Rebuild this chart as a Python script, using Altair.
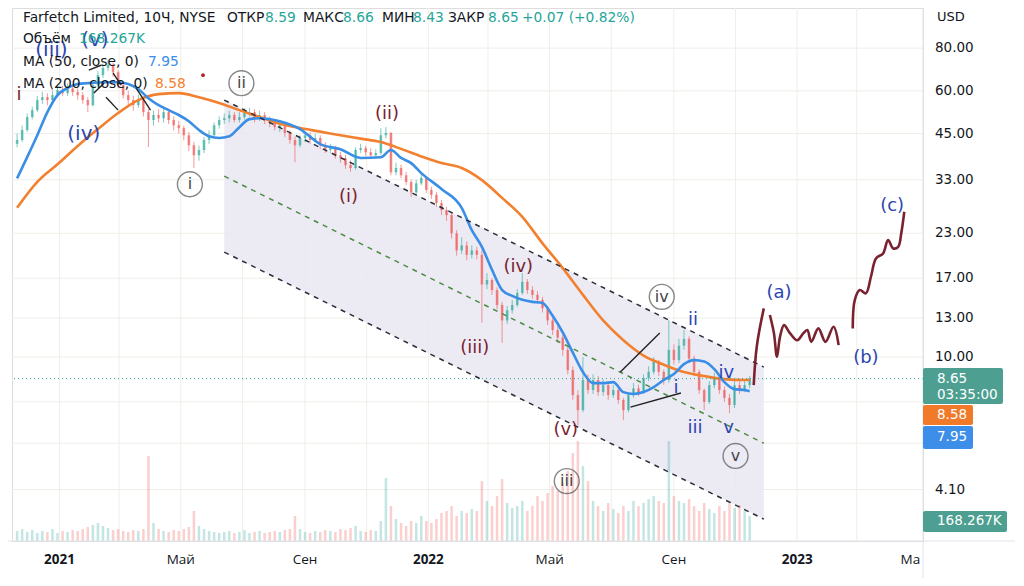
import altair as alt
import pandas as pd

# ---------------- data ----------------
candle_start = "2020-11-20"
candle_step_days = 5
first_open = 42.0
closes = [43.1, 46.1, 50.3, 52.7, 56.4, 57.5, 56.4, 58.3, 60.3, 59.1,
          61.0, 59.5, 58.3, 56.4, 54.5, 62.4, 66.7, 70.0, 71.5, 68.0,
          62.4, 58.3, 56.4, 54.5, 56.4, 52.0, 49.3, 51.0, 49.9, 52.0,
          49.3, 47.6, 46.7, 44.5, 41.6, 38.9, 40.3, 43.1, 44.5, 47.6,
          49.3, 49.9, 51.0, 49.3, 50.3, 51.7, 52.0, 49.9, 51.0, 49.3,
          48.3, 47.0, 47.6, 45.2, 43.1, 41.6, 43.7, 44.5, 43.1, 43.7,
          41.6, 40.3, 40.8, 38.9, 38.2, 36.4, 35.7, 40.3, 40.8, 39.7,
          38.9, 39.5, 44.5, 45.2, 34.7, 35.7, 34.0, 32.5, 30.3, 32.2,
          33.4, 30.8, 29.8, 28.2, 26.9, 26.0, 23.0, 20.5, 21.2, 19.9,
          20.5, 19.9, 16.3, 16.8, 15.7, 14.2, 12.8, 13.7, 14.2, 15.4,
          16.6, 15.7, 15.2, 14.7, 13.9, 12.8, 12.0, 11.4, 10.5, 9.16,
          7.74, 7.0, 8.57, 8.01, 8.57, 7.9, 8.28, 7.74, 8.01, 7.49,
          7.0, 7.74, 8.1, 7.9, 8.68, 9.05, 9.7, 9.05, 8.57, 10.5,
          9.8, 10.8, 11.3, 9.9, 9.05, 8.01, 7.39, 8.28, 8.68, 8.01,
          7.6, 7.24, 8.28, 8.01, 8.28, 8.65]
highs = [45.0, 47.5, 51.5, 54.0, 58.0, 59.5, 59.0, 60.0, 62.5, 62.0,
         63.0, 62.5, 61.0, 59.5, 57.5, 63.5, 68.5, 72.0, 73.9, 72.5,
         69.0, 63.5, 60.0, 58.0, 58.5, 57.0, 53.0, 52.5, 53.0, 53.5,
         53.0, 50.5, 49.0, 47.5, 45.5, 42.5, 41.5, 44.0, 46.0, 48.5,
         50.5, 51.5, 52.5, 52.0, 52.0, 53.4, 53.5, 53.0, 52.5, 52.0,
         50.5, 49.5, 49.0, 48.0, 46.0, 44.0, 44.5, 45.5, 45.5, 45.0,
         44.5, 42.5, 42.0, 41.5, 39.8, 39.0, 37.5, 41.0, 42.0, 41.5,
         40.8, 40.5, 46.7, 47.0, 45.5, 37.0, 36.5, 34.8, 33.0, 33.0,
         34.5, 33.8, 31.5, 30.3, 28.8, 27.5, 26.4, 23.5, 22.4, 21.8,
         21.2, 21.0, 20.5, 17.6, 17.0, 16.0, 14.5, 14.1, 14.7, 15.8,
         17.6, 16.9, 16.1, 15.6, 15.0, 14.1, 13.0, 12.3, 11.6, 10.7,
         9.4, 8.0, 10.0, 8.9, 8.9, 8.8, 8.6, 8.4, 8.3, 8.1,
         7.6, 7.9, 8.4, 8.3, 8.9, 9.4, 10.0, 9.8, 9.2, 12.8,
         10.9, 11.3, 12.0, 11.5, 10.1, 9.2, 8.1, 8.5, 9.0, 8.8,
         8.2, 7.8, 8.6, 8.5, 8.5, 8.8]
lows = [41.0, 42.5, 45.5, 49.5, 52.0, 55.0, 54.5, 55.5, 57.5, 58.0,
        58.0, 58.0, 56.5, 55.0, 52.0, 54.0, 61.5, 65.5, 68.5, 66.0,
        61.0, 57.0, 54.0, 52.5, 53.5, 50.5, 41.1, 47.5, 48.5, 48.5,
        48.0, 46.0, 45.0, 43.0, 40.0, 35.7, 37.5, 39.5, 42.0, 44.0,
        46.5, 48.0, 48.5, 48.5, 48.5, 49.5, 50.5, 48.5, 49.0, 48.0,
        47.0, 46.0, 45.5, 44.0, 42.0, 37.1, 41.0, 42.5, 42.0, 42.5,
        40.5, 39.5, 39.5, 38.0, 37.0, 35.5, 34.8, 35.3, 39.5, 38.8,
        38.0, 38.3, 39.0, 43.5, 34.0, 34.0, 33.3, 31.8, 29.4, 30.0,
        31.8, 30.2, 29.0, 27.5, 26.0, 25.0, 22.2, 19.8, 20.0, 19.2,
        19.4, 19.3, 12.6, 15.8, 15.2, 13.8, 11.0, 12.5, 13.4, 14.0,
        15.2, 15.3, 14.8, 14.3, 13.5, 12.4, 11.6, 11.0, 10.1, 8.9,
        7.5, 6.33, 6.9, 7.8, 7.8, 7.7, 7.7, 7.5, 7.6, 7.3,
        6.54, 6.9, 7.6, 7.7, 7.8, 8.5, 8.9, 8.8, 8.3, 8.4,
        9.5, 9.6, 10.5, 9.6, 8.8, 7.8, 7.0, 7.3, 8.1, 7.8,
        7.4, 6.86, 7.1, 7.8, 7.9, 8.1]
volumes_k = [300, 360, 270, 330, 240, 300, 270, 360, 240, 300,
             270, 330, 300, 360, 420, 480, 540, 450, 390, 330,
             360, 300, 270, 330, 300, 360, 2550, 540, 360, 300,
             270, 330, 300, 360, 420, 900, 450, 360, 300, 270,
             240, 270, 300, 240, 270, 330, 240, 270, 300, 240,
             270, 300, 270, 330, 360, 750, 360, 270, 240, 300,
             270, 330, 300, 270, 360, 330, 390, 450, 300, 270,
             330, 300, 600, 1890, 1050, 660, 540, 450, 600, 540,
             750, 600, 540, 660, 840, 900, 1050, 750, 900, 840,
             960, 900, 1800, 1200, 1050, 1350, 1860, 1140, 990, 1050,
             1200, 900, 1050, 1350, 1200, 1440, 1650, 1500, 1740, 2100,
             2640, 3000, 2250, 1800, 1200, 1050, 900, 1140, 960, 840,
             1050, 900, 1200, 1050, 1140, 1260, 1350, 1200, 1140, 3000,
             1350, 1200, 1140, 1260, 1050, 900, 1140, 960, 840, 1050,
             900, 1200, 990, 1080, 900, 750]

ma50_idx = [0, 2, 4, 6, 8, 10, 12, 14, 16, 18, 20, 22, 24, 26, 28, 30, 32, 34,
            36, 38, 40, 42, 44, 46, 48, 52, 56, 60, 64, 68, 72, 74, 76, 78, 80,
            84, 88, 90, 92, 94, 96, 98, 100, 102, 104, 106, 108, 110, 112, 114,
            116, 118, 120, 122, 124, 126, 128, 130, 132, 134, 136, 138, 140,
            142, 144, 145]
ma50_val = [33.3, 38.4, 44.5, 52.0, 58.3, 61.2, 62.8, 63.2, 63.5, 63.6, 63.6,
            62.8, 60.7, 57.1, 54.5, 52.7, 51.0, 48.9, 46.1, 44.2, 43.7, 44.2,
            47.0, 49.6, 49.9, 48.9, 46.4, 41.9, 40.5, 38.2, 38.4, 40.3, 38.2,
            36.9, 34.5, 31.0, 27.3, 23.5, 21.0, 18.0, 15.7, 15.1, 14.7, 14.5,
            14.4, 13.2, 11.8, 10.3, 9.04, 8.39, 8.39, 8.45, 7.9, 7.8, 7.9,
            8.17, 8.57, 8.92, 9.54, 9.80, 9.7, 9.22, 8.45, 8.06, 8.01, 7.95]
ma200_idx = [0, 4, 8, 12, 16, 20, 24, 28, 32, 36, 40, 44, 48, 52, 56, 60, 64,
             68, 72, 76, 80, 84, 88, 92, 96, 100, 104, 108, 112, 116, 120, 124,
             128, 132, 136, 140, 144, 145]
ma200_val = [27.3, 32.5, 36.6, 41.4, 46.4, 51.7, 56.4, 58.7, 59.1, 57.5, 55.3,
             52.7, 50.3, 48.1, 46.7, 45.6, 44.5, 43.5, 42.5, 40.6, 38.6, 36.9,
             35.7, 32.9, 29.2, 25.7, 21.5, 18.2, 15.2, 12.8, 11.2, 10.1, 9.5,
             9.04, 8.8, 8.62, 8.57, 8.58]

last_price = 8.65
grid_prices = [80, 60, 45, 33, 23, 17, 13, 10, 7.4, 5.6, 4.1]
label_prices = [80, 60, 45, 33, 23, 17, 13, 10, 4.1]
grid_dates = ["2021-01-01", "2021-03-01", "2021-05-01", "2021-07-01", "2021-09-01",
              "2021-11-01", "2022-01-01", "2022-03-01", "2022-05-01", "2022-07-01",
              "2022-09-01", "2022-11-01", "2023-01-01", "2023-03-01"]
year_dates = ["2021-01-01", "2022-01-01", "2023-01-01"]
year_labels = ["2021", "2022", "2023"]
month_dates = ["2021-05-01", "2021-09-01", "2022-05-01", "2022-09-01", "2023-04-23"]
month_labels = ["Май", "Сен", "Май", "Сен", "Ма"]

# parallel channel (start / end)
chan_dates = ["2021-06-13", "2022-11-29"]
chan_top = [56.4, 9.35]
chan_mid = [33.8, 5.60]
chan_bot = [20.27, 3.36]

# black hand-drawn trend lines
trend_seg = [1, 1, 2, 2, 3, 3, 4, 4, 5, 5, 6, 6, 7, 7]
trend_date = ["2021-01-30", "2021-02-11", "2021-02-04", "2021-02-14", "2021-02-16",
              "2021-02-28", "2021-02-23", "2021-03-03", "2021-03-18", "2021-04-01",
              "2022-07-10", "2022-08-18", "2022-07-20", "2022-09-08"]
trend_price = [69.0, 71.3, 59.1, 63.2, 57.5, 52.7, 67.6, 62.4, 61.0, 52.7,
               9.04, 11.75, 7.14, 7.85]

# forecast path (dark red)
fc_seg = [1, 1, 1] + [2] * 14 + [3] * 12
fc_date = ["2022-11-19", "2022-11-22", "2022-11-29",
           "2022-12-05", "2022-12-09", "2022-12-12", "2022-12-15", "2022-12-19",
           "2022-12-25", "2023-01-01", "2023-01-07", "2023-01-11", "2023-01-15",
           "2023-01-22", "2023-01-29", "2023-02-06", "2023-02-11",
           "2023-02-25", "2023-02-27", "2023-03-04", "2023-03-10", "2023-03-15",
           "2023-03-20", "2023-03-27", "2023-04-01", "2023-04-06", "2023-04-11",
           "2023-04-14", "2023-04-17"]
fc_price = [8.28, 10.72, 13.88,
            13.27, 11.75, 10.02, 11.46, 12.40, 11.73, 11.2, 11.73, 12.0, 11.08,
            12.13, 11.08, 12.26, 10.84,
            12.13, 14.68, 15.70, 15.35, 17.17, 19.43, 20.09, 21.98, 20.78,
            21.01, 22.99, 26.59]

# wave labels
red_text = ["i", "(i)", "(ii)", "(iii)", "(iv)", "(v)"]
red_date = ["2020-11-22", "2021-10-14", "2021-11-21", "2022-02-16", "2022-03-31", "2022-05-17"]
red_price = [58.3, 29.4, 51.3, 10.6, 18.3, 6.12]
blue_big_text = ["(iii)", "(v)", "(iv)"]
blue_big_date = ["2020-12-24", "2021-02-05", "2021-01-25"]
blue_big_price = [78.9, 84.4, 45.0]
blue_text = ["ii", "i", "iii", "iv", "v", "(a)", "(b)", "(c)"]
blue_date = ["2022-09-20", "2022-09-03", "2022-09-22", "2022-10-23", "2022-10-25",
             "2022-12-14", "2023-03-10", "2023-04-05"]
blue_price = [12.8, 8.12, 6.20, 8.98, 6.20, 15.4, 9.93, 27.6]
circ_text = ["i", "ii", "iii", "iv", "v"]
circ_date = ["2021-05-10", "2021-06-30", "2022-05-18", "2022-08-20", "2022-11-01"]
circ_price = [32.0, 63.2, 4.34, 15.0, 5.14]
dot_date = ["2021-05-23"]
dot_price = [66.7]

# ---------------- styling ----------------
UP, DOWN = "#26a69a", "#ef5350"
BLUE, ORANGE = "#3a8ee6", "#f2802e"
MAROON, WBLUE = "#7a2330", "#2c45b0"
GRID = "#efeee8"
TXT = "#131722"
FONT = "DejaVu Sans"
AFONT = "Open Sans"
LFONT = "DejaVu Sans"

dates = pd.date_range(candle_start, periods=len(closes),
                      freq=f"{candle_step_days}D").strftime("%Y-%m-%d").tolist()
opens = [first_open] + closes[:-1]
direction = ["up" if c >= o else "down" for o, c in zip(opens, closes)]
candles = pd.DataFrame({"date": dates, "open": opens, "high": highs, "low": lows,
                        "close": closes, "dir": direction, "vol": volumes_k})

XS = alt.Scale(type="utc", domain=[
    alt.DateTime(year=2020, month=11, date=19, hours=22, utc=True),
    alt.DateTime(year=2023, month=4, date=30, hours=14, utc=True)])
YS = alt.Scale(type="log", domain=[2.90, 104.8])


def X(f="date"):
    return alt.X(f"{f}:T", scale=XS, axis=None)


def Y(f):
    return alt.Y(f"{f}:Q", scale=YS, axis=None)


CS = alt.Color("dir:N", scale=alt.Scale(domain=["up", "down"], range=[UP, DOWN]), legend=None)


def one():
    return pd.DataFrame({"k": [0]})


def txt(s, x, y, color=TXT, size=13.8, weight="normal", align="left", font=FONT):
    return alt.Chart(pd.DataFrame({"t": [s]})).mark_text(
        align=align, baseline="middle", font=font, fontSize=size, fontWeight=weight, color=color
    ).encode(text="t:N", x=alt.value(x), y=alt.value(y))


def box(x1, x2, y1, y2, color):
    return alt.Chart(one()).mark_rect(color=color, cornerRadius=2).encode(
        x=alt.value(x1), x2=alt.value(x2), y=alt.value(y1), y2=alt.value(y2))


# ---- group A: grid + channel fill (log y) ----
hgrid = alt.Chart(pd.DataFrame({"p": grid_prices})).mark_rule(color=GRID, strokeWidth=1).encode(y=Y("p"))
vgrid = alt.Chart(pd.DataFrame({"date": grid_dates})).mark_rule(color=GRID, strokeWidth=1).encode(x=X())
chan_df = pd.DataFrame({"date": chan_dates, "top": chan_top, "bot": chan_bot})
chan_fill = alt.Chart(chan_df).mark_area(color="#e9e8f2", opacity=0.85).encode(
    x=X(), y=Y("top"), y2="bot:Q")
groupA = alt.layer(hgrid, vgrid, chan_fill)

# ---- group V: volume (own linear y) ----
vol = alt.Chart(candles).mark_bar(size=2.5, opacity=0.28).encode(
    x=X(), y=alt.Y("vol:Q", scale=alt.Scale(domain=[0, 16000]), axis=None), color=CS)

# ---- group B: price marks and annotations ----
wicks = alt.Chart(candles).mark_rule(strokeWidth=1, opacity=0.6).encode(
    x=X(), y=Y("low"), y2="high:Q", color=CS)
bodies = alt.Chart(candles).mark_bar(size=2.6, opacity=0.62).encode(
    x=X(), y=Y("open"), y2="close:Q", color=CS)
ma50 = alt.Chart(pd.DataFrame({"date": [dates[i] for i in ma50_idx], "v": ma50_val})).mark_line(
    color=BLUE, strokeWidth=2.6, interpolate="monotone").encode(x=X(), y=Y("v"))
ma200 = alt.Chart(pd.DataFrame({"date": [dates[i] for i in ma200_idx], "v": ma200_val})).mark_line(
    color=ORANGE, strokeWidth=2.6, interpolate="monotone").encode(x=X(), y=Y("v"))
pline = alt.Chart(pd.DataFrame({"p": [last_price]})).mark_rule(
    color=UP, strokeDash=[1, 3], strokeWidth=1).encode(y=Y("p"))

chan_lines_df = pd.DataFrame({"date": chan_dates * 2, "p": chan_top + chan_bot,
                              "line": ["top", "top", "bot", "bot"]})
chan_lines = alt.Chart(chan_lines_df).mark_line(color="#2a2e39", strokeDash=[5, 5], strokeWidth=1.5).encode(
    x=X(), y=Y("p"), detail="line:N")
chan_mid_line = alt.Chart(pd.DataFrame({"date": chan_dates, "p": chan_mid})).mark_line(
    color="#4d8a45", strokeDash=[5, 5], strokeWidth=1.5).encode(x=X(), y=Y("p"))
trend = alt.Chart(pd.DataFrame({"date": trend_date, "p": trend_price, "seg": trend_seg})).mark_line(
    color="#222222", strokeWidth=1.4).encode(x=X(), y=Y("p"), detail="seg:N")
forecast = alt.Chart(pd.DataFrame({"date": fc_date, "p": fc_price, "seg": fc_seg})).mark_line(
    color=MAROON, strokeWidth=2.6, interpolate="catmull-rom").encode(x=X(), y=Y("p"), detail="seg:N")

red_lbl = alt.Chart(pd.DataFrame({"date": red_date, "p": red_price, "t": red_text})).mark_text(
    font=LFONT, fontSize=18, color=MAROON).encode(x=X(), y=Y("p"), text="t:N")
blue_big = alt.Chart(pd.DataFrame({"date": blue_big_date, "p": blue_big_price, "t": blue_big_text})).mark_text(
    font=LFONT, fontSize=20, color=WBLUE).encode(x=X(), y=Y("p"), text="t:N")
blue_lbl = alt.Chart(pd.DataFrame({"date": blue_date, "p": blue_price, "t": blue_text})).mark_text(
    font=LFONT, fontSize=18, color=WBLUE).encode(x=X(), y=Y("p"), text="t:N")
circ_df = pd.DataFrame({"date": circ_date, "p": circ_price, "t": circ_text})
circ_ring = alt.Chart(circ_df).mark_point(shape="circle", size=620, filled=False, color="#555555",
                                          strokeWidth=1.4).encode(x=X(), y=Y("p"))
circ_lbl = alt.Chart(circ_df).mark_text(font=LFONT, fontSize=16, color="#444444").encode(
    x=X(), y=Y("p"), text="t:N")
dot = alt.Chart(pd.DataFrame({"date": dot_date, "p": dot_price})).mark_point(
    shape="circle", size=14, filled=True, color="#b3202a", opacity=1).encode(x=X(), y=Y("p"))

ylabels = alt.Chart(pd.DataFrame({"p": label_prices})).mark_text(
    align="left", baseline="middle", font=FONT, fontSize=13.5, color=TXT).encode(
    y=Y("p"), x=alt.value(923), text=alt.Text("p:Q", format=".2f"))
xyears = alt.Chart(pd.DataFrame({"date": year_dates, "t": year_labels})).mark_text(
    font=AFONT, fontSize=13.5, fontWeight="bold", color=TXT, baseline="middle").encode(
    x=X(), y=alt.value(552), text="t:N")
xmonths = alt.Chart(pd.DataFrame({"date": month_dates, "t": month_labels})).mark_text(
    font=AFONT, fontSize=13.5, color=TXT, baseline="middle").encode(
    x=X(), y=alt.value(552), text="t:N")

border_r = alt.Chart(one()).mark_rule(color="#e0e3eb").encode(
    x=alt.value(911), y=alt.value(-8), y2=alt.value(570))
border_b = alt.Chart(one()).mark_rule(color="#e0e3eb").encode(
    x=alt.value(-12), x2=alt.value(1003), y=alt.value(533))

header = [
    txt("Farfetch Limited, 10Ч, NYSE", 11, 10),
    txt("ОТКР", 215, 10), txt("8.59", 253, 10, UP),
    txt("МАКС", 291, 10), txt("8.66", 331, 10, UP),
    txt("МИН", 370, 10), txt("8.43", 401, 10, UP),
    txt("ЗАКР", 436, 10), txt("8.65", 476, 10, UP),
    txt("+0.07 (+0.82%)", 510, 10, UP),
    txt("Объём", 11, 31), txt("168.267K", 67, 31, UP),
    txt("MA (50, close, 0)", 11, 54), txt("7.95", 136, 54, BLUE),
    txt("MA (200, close, 0)", 11, 76), txt("8.58", 143, 76, ORANGE),
    txt("USD", 925, 9, size=13),
]
tags = [
    box(911, 991, 360, 396, "#4c9f91"),
    txt("8.65", 925, 371, "white", 13.5), txt("03:35:00", 925, 387, "white", 13.5),
    box(911, 961, 397, 417, "#f07a2a"), txt("8.58", 925, 407, "white", 13.5),
    box(911, 961, 418, 441, "#3d8ee8"), txt("7.95", 925, 429, "white", 13.5),
    box(911, 995, 503, 524, "#4c9f91"), txt("168.267K", 925, 513, "white", 13.5),
]

groupB = alt.layer(wicks, bodies, ma200, ma50, pline, chan_lines, chan_mid_line, trend,
                   forecast, red_lbl, blue_big, blue_lbl, circ_ring, circ_lbl, dot,
                   ylabels, xyears, xmonths, border_r, border_b, *header, *tags)

chart = alt.layer(groupA, vol, groupB).resolve_scale(y="independent").properties(
    width=911, height=533,
    padding={"left": 4, "top": 0, "right": 92, "bottom": 37},
    autosize=alt.AutoSizeParams(type="none"),
).configure_view(stroke=None, fill="#fffdf8").configure(background="#ffffff")

chart.save("out.html", embed_options={"renderer": "svg", "actions": False})
